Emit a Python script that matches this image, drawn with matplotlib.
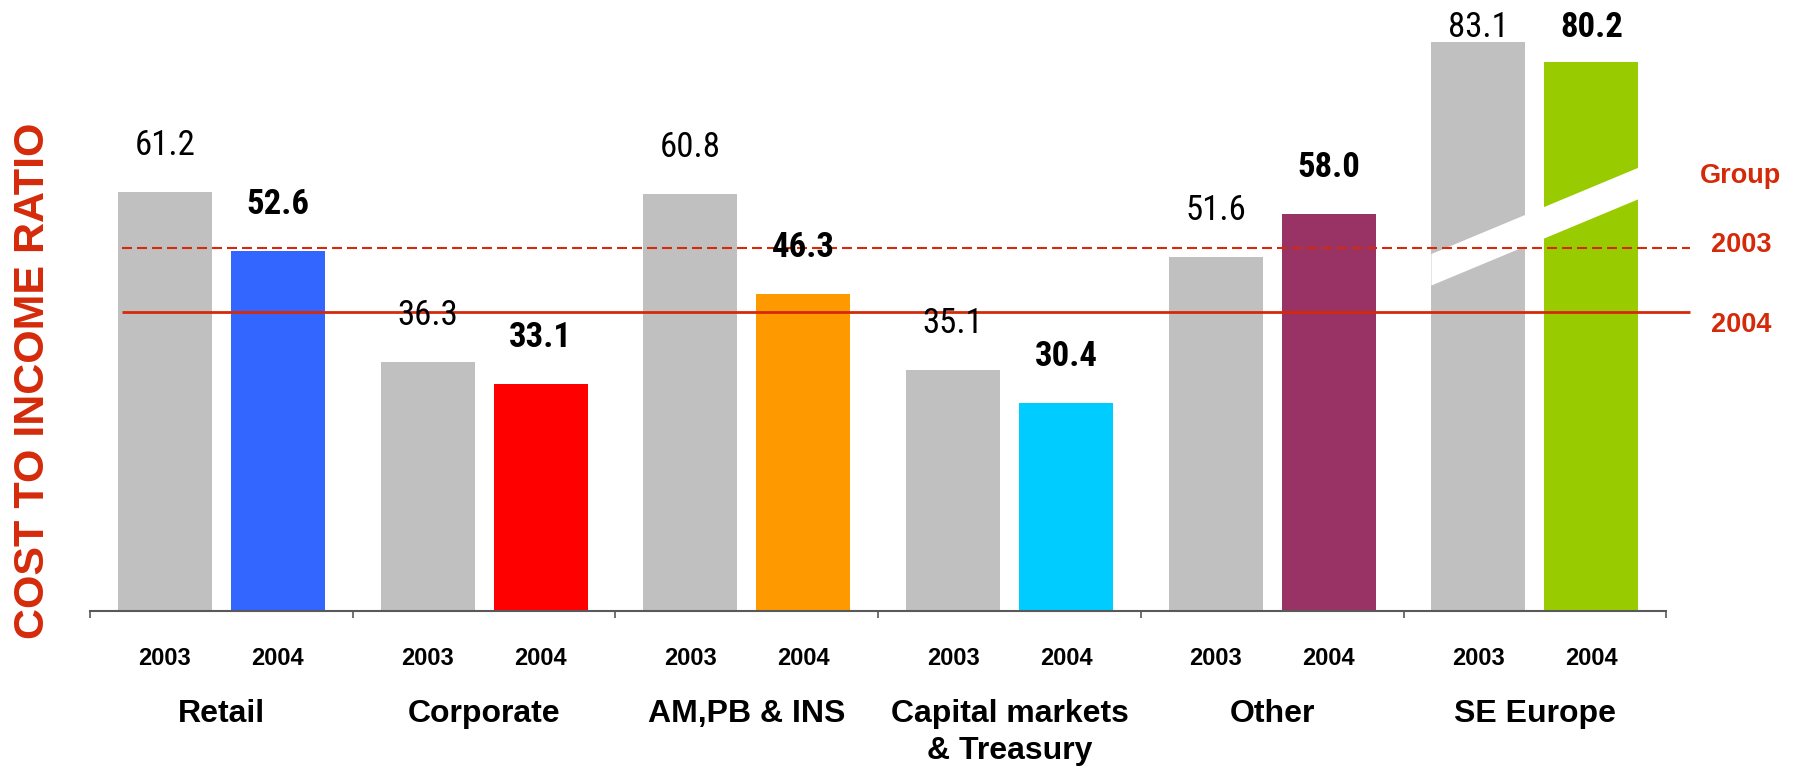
import numpy as np
import matplotlib
matplotlib.use("Agg")
import matplotlib.pyplot as plt
import matplotlib.transforms as mtransforms
from matplotlib import font_manager

# Cost to income ratio by division
categories = ["Retail", "Corporate", "AM,PB & INS", "Capital markets\n& Treasury", "Other", "SE Europe"]
years = ["2003", "2004"]
ratio_2003 = [61.2, 36.3, 60.8, 35.1, 51.6, 83.1]
ratio_2004 = [52.6, 33.1, 46.3, 30.4, 58.0, 80.2]
group_2003 = 53.0
group_2004 = 43.6

colors_2004 = ["#3366FF", "#FF0000", "#FF9900", "#00CCFF", "#993366", "#99CC00"]
gray = "#C0C0C0"
red = "#D42A0A"

plt.rcParams['font.family'] = ['Liberation Sans', 'DejaVu Sans']

# narrow face for the value labels, whichever is installed
installed = {f.name for f in font_manager.fontManager.ttflist}
narrow = [n for n in ["Liberation Sans Narrow", "Roboto Condensed", "DejaVu Sans Condensed"]
          if n in installed] + ["DejaVu Sans"]
stretch = "normal" if narrow[0] != "DejaVu Sans" else "condensed"

fig = plt.figure(figsize=(18, 7.69), dpi=100)
ax = fig.add_axes([0.05, 0.2058, 0.95, 0.7942])

x = np.arange(len(categories))
w = 0.358
off = 0.215
ax.bar(x - off, ratio_2003, width=w, color=gray, zorder=1)
ax.bar(x + off, ratio_2004, width=w, color=colors_2004, zorder=1)

# axis break band across the SE Europe bars
i = len(categories) - 1
bx0 = x[i] - off - w / 2
bx1 = x[i] + off + w / 2
lo, thick, rise = 47.5, 4.6, 12.6
ax.fill([bx0, bx1, bx1, bx0], [lo, lo + rise, lo + rise + thick, lo + thick],
        color="white", zorder=2, lw=0)

# group reference lines
ax.hlines(group_2003, -0.38, 5.59, colors=red, linestyles=(0, (4.8, 2.4)), lw=1.5, zorder=3)
ax.hlines(group_2004, -0.38, 5.59, colors=red, linestyles="solid", lw=2, zorder=3)

# value labels
for k in range(len(categories)):
    ax.text(x[k] - off, min(ratio_2003[k] + 6.8, 85.2), f"{ratio_2003[k]:.1f}",
            ha="center", va="center", fontsize=25, family=narrow, fontstretch=stretch, zorder=4)
    ax.text(x[k] + off, min(ratio_2004[k] + 6.8, 85.2), f"{ratio_2004[k]:.1f}",
            ha="center", va="center", fontsize=25, family=narrow, fontstretch=stretch,
            fontweight="bold", zorder=4)

ax.set_xlim(-0.5, 6.009)
ax.set_ylim(0, 89.2)
for s in ["top", "right", "left"]:
    ax.spines[s].set_visible(False)
ax.spines["bottom"].set_bounds(-0.5, 5.5)
ax.spines["bottom"].set_color("#595959")
ax.spines["bottom"].set_linewidth(1.5)
ax.set_yticks([])
ax.set_xticks(np.arange(-0.5, 6, 1))
ax.set_xticklabels([])
ax.tick_params(axis="x", direction="out", length=5, width=1.2, color="#595959")

trans = mtransforms.blended_transform_factory(ax.transData, fig.transFigure)
for k in range(len(categories)):
    ax.text(x[k] - off, 0.1352, years[0], transform=trans, ha="center", va="baseline",
            fontsize=17, fontweight="bold")
    ax.text(x[k] + off, 0.1352, years[1], transform=trans, ha="center", va="baseline",
            fontsize=17, fontweight="bold")
    ax.text(x[k], 0.0905, categories[k], transform=trans, ha="center", va="top",
            fontsize=23, fontweight="bold", linespacing=1.3)

fig.text(0.9672, 0.762, "Group", ha="center", va="baseline", fontsize=19.5,
         fontweight="bold", color=red)
fig.text(0.9672, 0.6723, "2003", ha="center", va="baseline", fontsize=19.5,
         fontweight="bold", color=red)
fig.text(0.9672, 0.5683, "2004", ha="center", va="baseline", fontsize=19.5,
         fontweight="bold", color=red)

fig.text(0.0185, 1 - 380.5 / 769, "COST TO INCOME RATIO", rotation=90, ha="center",
         va="center", fontsize=31, fontweight="bold", color=red)

fig.savefig("out.png", dpi=100)
